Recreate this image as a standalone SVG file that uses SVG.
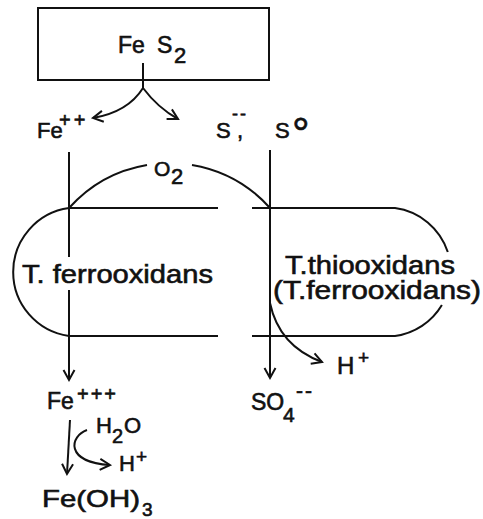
<svg xmlns="http://www.w3.org/2000/svg" width="483" height="519" viewBox="0 0 483 519">
<style>
text { font-family: "Liberation Sans", Arial, sans-serif; fill: #111; stroke: #111; stroke-width: 0.6; }
.ln { fill: none; stroke: #111; stroke-width: 2; }
.ar { fill: none; stroke: #111; stroke-width: 2; marker-end: url(#ah); }
</style>
<defs>
<marker id="ah" markerUnits="userSpaceOnUse" markerWidth="14" markerHeight="14" refX="11" refY="7" orient="auto" viewBox="0 0 14 14">
<path d="M1,1.5 L11,7 L1,12.5" fill="none" stroke="#111" stroke-width="2"/>
</marker>
</defs>
<rect width="483" height="519" fill="#fff"/>

<g id="fes2">
<rect x="38" y="8" width="231" height="72" class="ln"/>
<text x="118" y="53" font-size="23">Fe</text>
<text x="157" y="53" font-size="23">S</text>
<text x="174" y="63" font-size="22">2</text>
</g>

<g id="fe2">
<text x="37" y="138" font-size="22">Fe</text>
<text x="59" y="127" font-size="20" letter-spacing="3">++</text>
</g>

<g id="sulfur">
<text x="216" y="138" font-size="22">S</text>
<text x="232" y="120" font-size="18" letter-spacing="2">--</text>
<text x="237" y="138" font-size="22">,</text>
<text x="275" y="138" font-size="22">S</text>
<text x="292" y="149" font-size="44" stroke-width="0">°</text>
</g>

<g id="o2">
<text x="154" y="176" font-size="21">O</text>
<text x="171" y="184" font-size="22">2</text>
</g>

<g id="t-ferro">
<path class="ln" d="M69,208 L218,208 M69,336 L218,336 M69,208 A64.6,64.6 0 0 0 69,336"/>
<text x="22" y="283" font-size="26" textLength="191" lengthAdjust="spacingAndGlyphs">T. ferrooxidans</text>
</g>

<g id="t-thio">
<path class="ln" d="M252,208 L395,208 A64.6,64.6 0 0 1 447.8,252 M441.9,305 A64.6,64.6 0 0 1 395,336 L252,336"/>
<text x="285" y="274" font-size="26" textLength="170" lengthAdjust="spacingAndGlyphs">T.thiooxidans</text>
<text x="273" y="299" font-size="26" textLength="208" lengthAdjust="spacingAndGlyphs">(T.ferrooxidans)</text>
</g>

<g id="hplus-right">
<text x="337" y="374" font-size="24">H</text>
<text x="358" y="364" font-size="19">+</text>
</g>

<g id="fe3">
<text x="47" y="409" font-size="23">Fe</text>
<text x="77" y="401" font-size="20" letter-spacing="2">+++</text>
</g>

<g id="so4">
<text x="251" y="410" font-size="23">SO</text>
<text x="283" y="422" font-size="21">4</text>
<text x="296" y="398" font-size="21" letter-spacing="2">--</text>
</g>

<g id="h2o">
<text x="96" y="433" font-size="22">H</text>
<text x="112" y="443" font-size="20">2</text>
<text x="124" y="433" font-size="22">O</text>
</g>

<g id="hplus-left">
<text x="119" y="471" font-size="22">H</text>
<text x="136" y="463" font-size="19">+</text>
</g>

<g id="feoh3">
<text x="42" y="507" font-size="24" textLength="98" lengthAdjust="spacingAndGlyphs">Fe(OH)</text>
<text x="142" y="516" font-size="19">3</text>
</g>

<g id="connectors">
<path class="ln" d="M143,63 L143,88"/>
<path class="ar" d="M143,88 Q128,112 93,118"/>
<path class="ar" d="M143,88 Q158,108 178,119"/>
<path class="ln" d="M69,208 A134.7,134.7 0 0 1 147,164.9"/>
<path class="ln" d="M192,164.9 A134.7,134.7 0 0 1 270,208"/>
<path class="ln" d="M69,152 L69,257"/>
<path class="ar" d="M69,290 L69,380"/>
<path class="ar" d="M270,150 L270,378"/>
<path class="ar" d="M270,303 Q279,346 322,362"/>
<path class="ar" d="M70,420 L67,474"/>
<path class="ar" d="M87,430 C70,436 64,462 110,465"/>
</g>
</svg>
